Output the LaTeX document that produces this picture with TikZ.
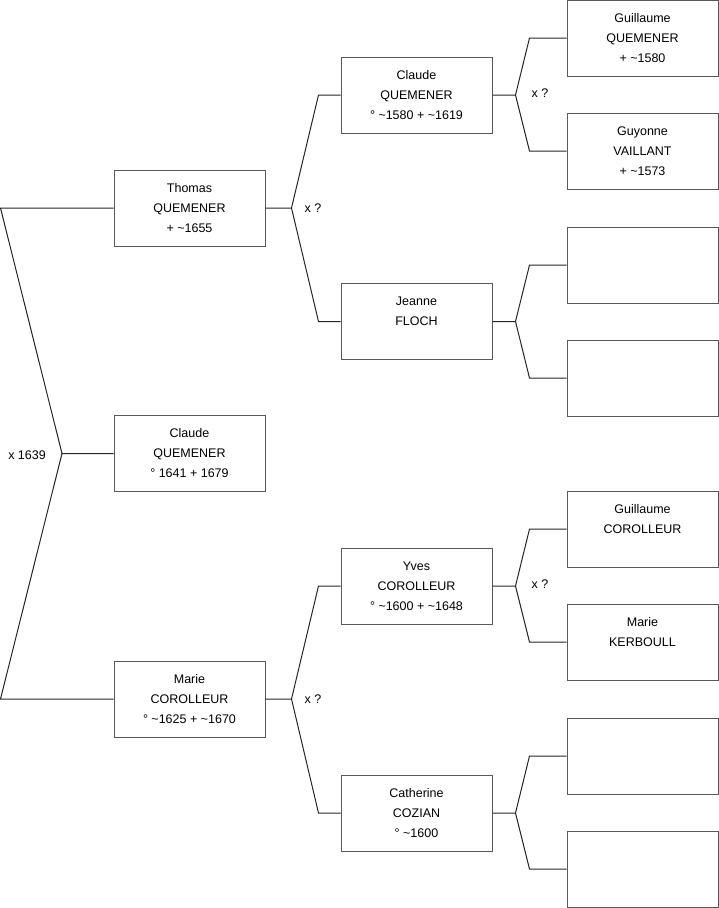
\documentclass[tikz,border=0pt]{standalone}
\usepackage{fontspec}
\setmainfont{Liberation Sans}
\usetikzlibrary{positioning,calc}

\begin{document}
\begin{tikzpicture}[x=1pt, y=-1pt, font=\fontsize{12.5}{20}\selectfont,
  person/.style={draw=black!65, line width=1pt, minimum width=151pt, minimum height=76pt, inner sep=0pt, align=center},
  link/.style={draw=black!85, line width=1pt},
  union/.style={inner sep=0pt, anchor=west}]
  \useasboundingbox (0,0) rectangle (719,908);
  % generation 1
  \node[person] (thomas) at (189.5,208) {Thomas\\QUEMENER\\+ \textasciitilde1655};
  \node[person] (claude) at (189.5,453.5) {Claude\\QUEMENER\\° 1641 + 1679};
  \node[person] (marie) at (189.5,699) {Marie\\COROLLEUR\\° \textasciitilde1625 + \textasciitilde1670};
  % generation 2
  \node[person] (claudeF) at (416.5,95) {Claude\\QUEMENER\\° \textasciitilde1580 + \textasciitilde1619};
  \node[person] (jeanne) at (416.5,321.5) {Jeanne\\FLOCH\\\mbox{}};
  \node[person] (yves) at (416.5,586) {Yves\\COROLLEUR\\° \textasciitilde1600 + \textasciitilde1648};
  \node[person] (catherine) at (416.5,813) {Catherine\\COZIAN\\° \textasciitilde1600};
  % generation 3
  \node[person] (guillaumeQ) at (642.5,38) {Guillaume\\QUEMENER\\+ \textasciitilde1580};
  \node[person] (guyonne) at (642.5,151) {Guyonne\\VAILLANT\\+ \textasciitilde1573};
  \node[person] (jeanneF) at (642.5,265) {};
  \node[person] (jeanneM) at (642.5,378) {};
  \node[person] (guillaumeC) at (642.5,529) {Guillaume\\COROLLEUR\\\mbox{}};
  \node[person] (marieK) at (642.5,642) {Marie\\KERBOULL\\\mbox{}};
  \node[person] (catherineF) at (642.5,756) {};
  \node[person] (catherineM) at (642.5,869) {};
  % parents of claude
  \coordinate (m0) at (62,453.5);
  \draw[link] (claude.west) -- (m0) -- ([xshift=-113pt]thomas.west) -- (thomas.west);
  \draw[link] (m0) -- ([xshift=-113pt]marie.west) -- (marie.west);
  \node[union, anchor=east] at ([xshift=-16pt,yshift=-2pt]m0) {x 1639};
  % parents of thomas
  \draw[link] (thomas.east) -- ++(26,0) coordinate (m1) -- ([xshift=-22pt]claudeF.west) -- (claudeF.west);
  \draw[link] (m1) -- ([xshift=-22pt]jeanne.west) -- (jeanne.west);
  \node[union] at ([xshift=13pt]m1) {x ?};
  % parents of marie
  \draw[link] (marie.east) -- ++(26,0) coordinate (m2) -- ([xshift=-22pt]yves.west) -- (yves.west);
  \draw[link] (m2) -- ([xshift=-22pt]catherine.west) -- (catherine.west);
  \node[union] at ([xshift=13pt]m2) {x ?};
  % parents of claudeF
  \draw[link] (claudeF.east) -- ++(23,0) coordinate (m3) -- ([xshift=-37pt]guillaumeQ.west) -- (guillaumeQ.west);
  \draw[link] (m3) -- ([xshift=-37pt]guyonne.west) -- (guyonne.west);
  \node[union] at ([xshift=16pt,yshift=2pt]m3) {x ?};
  % parents of jeanne
  \draw[link] (jeanne.east) -- ++(23,0) coordinate (m4) -- ([xshift=-37pt]jeanneF.west) -- (jeanneF.west);
  \draw[link] (m4) -- ([xshift=-37pt]jeanneM.west) -- (jeanneM.west);
  % parents of yves
  \draw[link] (yves.east) -- ++(23,0) coordinate (m5) -- ([xshift=-37pt]guillaumeC.west) -- (guillaumeC.west);
  \draw[link] (m5) -- ([xshift=-37pt]marieK.west) -- (marieK.west);
  \node[union] at ([xshift=16pt,yshift=2pt]m5) {x ?};
  % parents of catherine
  \draw[link] (catherine.east) -- ++(23,0) coordinate (m6) -- ([xshift=-37pt]catherineF.west) -- (catherineF.west);
  \draw[link] (m6) -- ([xshift=-37pt]catherineM.west) -- (catherineM.west);
\end{tikzpicture}
\end{document}
